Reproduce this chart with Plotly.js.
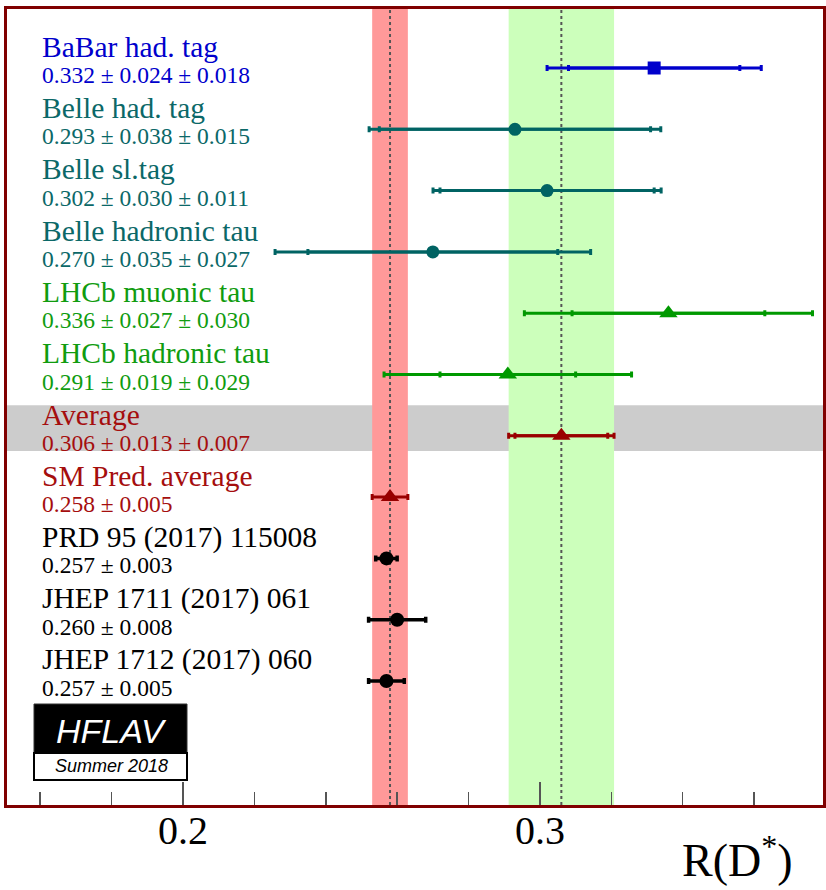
<!DOCTYPE html>
<html>
<head>
<meta charset="utf-8">
<script src="https://cdn.plot.ly/plotly-3.0.1.min.js"></script>
<style>html,body{margin:0;padding:0;background:#fff;}#chart{width:826px;height:890px;}</style>
</head>
<body>
<div id="chart"></div>
<script>
// ---- data ----
const names = ['BaBar had. tag','Belle had. tag','Belle sl.tag','Belle hadronic tau','LHCb muonic tau','LHCb hadronic tau','Average','SM Pred. average','PRD 95 (2017) 115008','JHEP 1711 (2017) 061','JHEP 1712 (2017) 060'];
const values  = [0.332,0.293,0.302,0.270,0.336,0.291,0.306,0.258,0.257,0.260,0.257];
const statErr = [0.024,0.038,0.030,0.035,0.027,0.019,0.013,0.005,0.003,0.008,0.005];
const systErr = [0.018,0.015,0.011,0.027,0.030,0.029,0.007,null,null,null,null];
const groups  = ['BaBar','Belle','Belle','Belle','LHCb','LHCb','Average','SM','Theory','Theory','Theory'];
const xTickVals = [0.2, 0.3];
const xTickText = ['0.2', '0.3'];
const axisTitle = 'R(D<sup>*</sup>)';
const logoTitle = 'HFLAV';
const logoSub = 'Summer 2018';

// ---- styles ----
const groupStyle = {
  BaBar:   {color:'#0000cc', text:'#0000cc', symbol:'square',      size:13, thick:3},
  Belle:   {color:'#006363', text:'#0b6868', symbol:'circle',      size:13, thick:3},
  LHCb:    {color:'#009900', text:'#109c10', symbol:'triangle-up', size:16, thick:3},
  Average: {color:'#990000', text:'#a50e0e', symbol:'triangle-up', size:16, thick:3},
  SM:      {color:'#990000', text:'#a50e0e', symbol:'triangle-up', size:16, thick:3},
  Theory:  {color:'#000000', text:'#000000', symbol:'circle',      size:14, thick:3.5}
};
const serif = "'Liberation Serif', 'DejaVu Serif', serif";
const sans = "'Liberation Sans', Arial, sans-serif";

function totalErr(i){
  return systErr[i] == null ? statErr[i] : Math.sqrt(statErr[i]*statErr[i] + systErr[i]*systErr[i]);
}

const traces = [];
const groupOrder = ['BaBar','Belle','LHCb','Average','SM','Theory'];
groupOrder.forEach(g => {
  const idx = groups.map((gg,i)=> gg===g ? i : -1).filter(i=>i>=0);
  const st = groupStyle[g];
  const hasSyst = idx.some(i => systErr[i] != null);
  if (hasSyst) {
    traces.push({
      type:'scatter', mode:'markers',
      x: idx.map(i=>values[i]), y: idx,
      marker:{size:1, color:st.color, opacity:0},
      error_x:{type:'data', array: idx.map(totalErr), visible:true, thickness:st.thick, width:3, color:st.color},
      hoverinfo:'skip', showlegend:false
    });
  }
  traces.push({
    type:'scatter', mode:'markers',
    x: idx.map(i=>values[i]), y: idx,
    marker:{size:st.size, color:st.color, symbol:st.symbol, line:{width:0}},
    error_x:{type:'data', array: idx.map(i=>statErr[i]), visible:true, thickness:st.thick, width:3, color:st.color},
    hoverinfo:'skip', showlegend:false
  });
});

// ---- bands ----
const avgI = groups.indexOf('Average');
const smI = groups.indexOf('SM');
const avgC = values[avgI], avgE = totalErr(avgI);
const smC = values[smI], smE = totalErr(smI);

// plot area pixels: x 7..823, y 9..805
const pxX = p => (p - 7) / 816;
const pxY = p => (805 - p) / 796;

const shapes = [
  {type:'rect', layer:'below', xref:'paper', yref:'y', x0:0, x1:1, y0:avgI-0.5, y1:avgI+0.25, fillcolor:'#cccccc', line:{width:0}},
  {type:'rect', layer:'below', xref:'x', yref:'paper', x0:smC-smE, x1:smC+smE, y0:0, y1:1, fillcolor:'#ff9999', line:{width:0}},
  {type:'rect', layer:'below', xref:'x', yref:'paper', x0:avgC-avgE, x1:avgC+avgE, y0:0, y1:1, fillcolor:'#ccffbb', line:{width:0}},
  {type:'line', layer:'below', xref:'x', yref:'paper', x0:smC, x1:smC, y0:0, y1:1, line:{color:'#555555', width:2, dash:'dot'}},
  {type:'line', layer:'below', xref:'x', yref:'paper', x0:avgC, x1:avgC, y0:0, y1:1, line:{color:'#555555', width:2, dash:'dot'}},
  // logo
  {type:'rect', layer:'above', xref:'paper', yref:'paper', x0:pxX(34), x1:pxX(187), y0:pxY(753), y1:pxY(704), fillcolor:'#000000', line:{color:'#333', width:1}},
  {type:'rect', layer:'above', xref:'paper', yref:'paper', x0:pxX(34), x1:pxX(187), y0:pxY(780), y1:pxY(753), fillcolor:'#ffffff', line:{color:'#000', width:2}}
];

// ---- labels ----
const annotations = [];
names.forEach((n,i) => {
  const st = groupStyle[groups[i]];
  const f = v => v.toFixed(3);
  const valText = systErr[i]==null ? `${f(values[i])} ± ${f(statErr[i])}` : `${f(values[i])} ± ${f(statErr[i])} ± ${f(systErr[i])}`;
  annotations.push({xref:'paper', yref:'y', x:pxX(40), y:i-0.345, xanchor:'left', yanchor:'middle', text:n, showarrow:false, font:{family:serif, size:29.5, color:st.text}});
  annotations.push({xref:'paper', yref:'y', x:pxX(40), y:i+0.115, xanchor:'left', yanchor:'middle', text:valText, showarrow:false, font:{family:serif, size:23.5, color:st.text}});
});
annotations.push({xref:'paper', yref:'paper', x:pxX(737), y:pxY(857), xanchor:'center', yanchor:'middle', text:axisTitle, showarrow:false, font:{family:serif, size:46, color:'#000'}});
annotations.push({xref:'paper', yref:'paper', x:pxX(111), y:pxY(731), xanchor:'center', yanchor:'middle', text:'<i>'+logoTitle+'</i>', showarrow:false, font:{family:sans, size:34, color:'#fff'}});
annotations.push({xref:'paper', yref:'paper', x:pxX(112), y:pxY(766), xanchor:'center', yanchor:'middle', text:'<i>'+logoSub+'</i>', showarrow:false, font:{family:sans, size:18, color:'#000'}});

const layout = {
  width:826, height:890,
  margin:{l:7, r:3, t:9, b:85, pad:0},
  paper_bgcolor:'#ffffff', plot_bgcolor:'#ffffff',
  showlegend:false,
  xaxis:{
    range:[0.1507, 0.3793], tickmode:'array', tickvals:xTickVals, ticktext:xTickText,
    ticks:'inside', ticklen:23, tickwidth:1.5, tickcolor:'#555',
    ticklabelstandoff:-12,
    minor:{ticks:'inside', ticklen:13, tickwidth:1.5, tickcolor:'#555', tick0:0.16, dtick:0.02, showgrid:false},
    tickfont:{family:serif, size:40, color:'#000'},
    showgrid:false, zeroline:false, showline:true, mirror:true, linecolor:'#800000', linewidth:3
  },
  yaxis:{
    range:[12.023, -0.9625], showticklabels:false, ticks:'', showgrid:false, zeroline:false,
    showline:true, mirror:true, linecolor:'#800000', linewidth:3
  },
  shapes:shapes, annotations:annotations
};

Plotly.newPlot('chart', traces, layout, {staticPlot:true, displayModeBar:false});
</script>
</body>
</html>
